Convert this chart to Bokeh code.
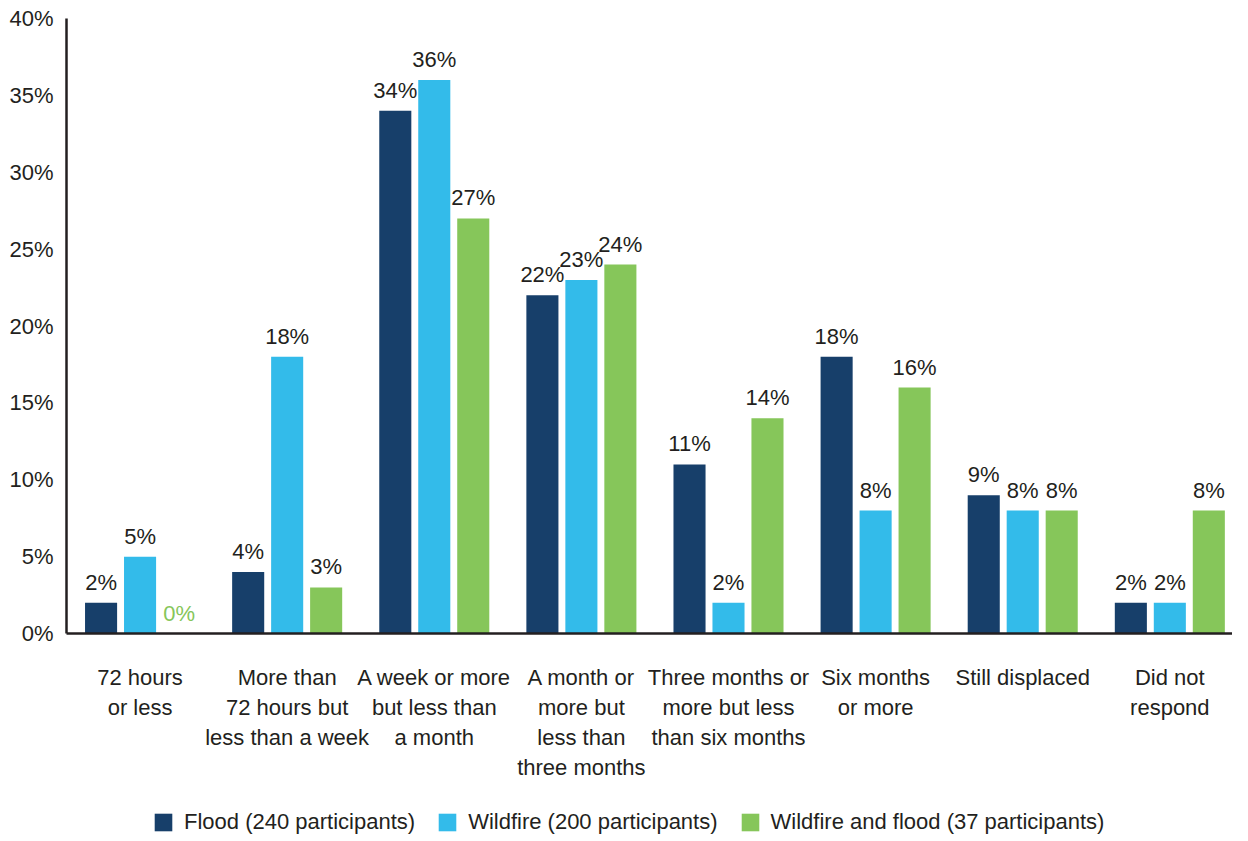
from bokeh.plotting import figure
from bokeh.layouts import column
from bokeh.models import ColumnDataSource, FixedTicker, PrintfTickFormatter, LabelSet, Legend, LegendItem
from bokeh.core.properties import value
from bokeh.transform import dodge
from bokeh.embed import file_html
from bokeh.resources import INLINE

categories = ["72 hours\nor less", "More than\n72 hours but\nless than a week",
              "A week or more\nbut less than\na month", "A month or\nmore but\nless than\nthree months",
              "Three months or\nmore but less\nthan six months", "Six months\nor more",
              "Still displaced", "Did not\nrespond"]
flood = [2, 4, 34, 22, 11, 18, 9, 2]
wildfire = [5, 18, 36, 23, 2, 8, 8, 2]
both = [0, 3, 27, 24, 14, 16, 8, 8]
series_names = ["Flood (240 participants)", "Wildfire (200 participants)",
                "Wildfire and flood (37 participants)"]
y_ticks = [0, 5, 10, 15, 20, 25, 30, 35, 40]

FONT = "Liberation Sans"
TXT = "#231f20"
colors = ["#173f6a", "#33bbea", "#86c65a"]

xs = [i + 0.5 for i in range(len(categories))]

p = figure(width=1232, height=798, x_range=(0, 7.926), y_range=(0, 40),
           output_backend="svg", toolbar_location=None,
           min_border_left=66, min_border_right=0, min_border_top=18, min_border_bottom=165)
p.outline_line_color = None
p.xgrid.grid_line_color = None
p.ygrid.grid_line_color = None

# separate strip that carries only the legend
lg = figure(width=1232, height=40, x_range=(0, 1), y_range=(0, 1),
            output_backend="svg", toolbar_location=None,
            x_axis_location=None, y_axis_location=None,
            min_border_left=0, min_border_right=0, min_border_top=0, min_border_bottom=0)
lg.outline_line_color = None
lg.xgrid.grid_line_color = None
lg.ygrid.grid_line_color = None

items = []
for k, (vals, name) in enumerate(zip([flood, wildfire, both], series_names)):
    src = ColumnDataSource(dict(
        x=xs, v=vals,
        lbl=[f"{v}%" for v in vals],
        tc=[colors[2] if v == 0 else TXT for v in vals]))
    off = (k - 1) * 0.265
    p.vbar(x=dodge("x", off, range=p.x_range), top="v", width=0.218, source=src,
           fill_color=colors[k], line_color=None)
    labels = LabelSet(x=dodge("x", off, range=p.x_range), y="v", text="lbl", source=src,
                      text_align="center", text_baseline="bottom", y_offset=8,
                      text_font=value(FONT), text_font_size="22px", text_color="tc")
    p.add_layout(labels)
    # legend proxy: zero-height bars (invisible), only their fill colour is used by the legend
    proxy = ColumnDataSource(dict(x=[0.5], b=[0], t=[0]))
    r = lg.vbar(x="x", bottom="b", top="t", width=0.1, source=proxy,
                fill_color=colors[k], line_color=None)
    items.append(LegendItem(label=name, renderers=[r]))

p.xaxis.ticker = FixedTicker(ticks=xs)
p.xaxis.major_label_overrides = {x: c for x, c in zip(xs, categories)}
p.yaxis.ticker = FixedTicker(ticks=y_ticks)
p.yaxis.formatter = PrintfTickFormatter(format="%d%%")
for ax in (p.xaxis[0], p.yaxis[0]):
    ax.major_tick_line_color = None
    ax.minor_tick_line_color = None
    ax.axis_line_color = TXT
    ax.axis_line_width = 2.5
    ax.major_label_text_font = FONT
    ax.major_label_text_font_size = "22px"
    ax.major_label_text_color = TXT
p.xaxis.major_label_standoff = 25
p.yaxis.major_label_standoff = 7

legend = Legend(items=items, orientation="horizontal", location=(86, 3),
                label_text_font=FONT, label_text_font_size="22px", label_text_color=TXT,
                glyph_width=22, glyph_height=22, spacing=21, label_standoff=10,
                padding=0, margin=0,
                border_line_color=None, background_fill_alpha=0)
lg.add_layout(legend, "center")

open("out.html", "w").write(file_html(column(p, lg), INLINE))
